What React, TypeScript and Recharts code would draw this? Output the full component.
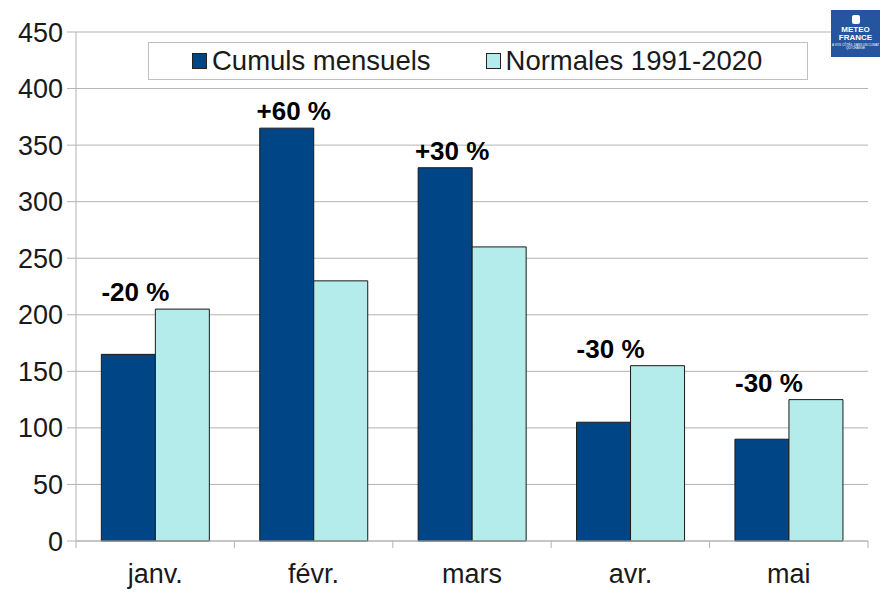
import React from 'react';
import {
  BarChart,
  Bar,
  XAxis,
  YAxis,
  CartesianGrid,
  Legend,
  LabelList,
} from 'recharts';

const months = ['janv.', 'févr.', 'mars', 'avr.', 'mai'];
const cumuls = [165, 365, 330, 105, 90];
const normales = [205, 230, 260, 155, 125];
const ecarts = ['-20 %', '+60 %', '+30 %', '-30 %', '-30 %'];
const yTicks = [0, 50, 100, 150, 200, 250, 300, 350, 400, 450];

const DARK = '#004586';
const LIGHT = '#b3ecea';
const GRID = '#b3b3b3';
const FONT = '"Liberation Sans", Arial, sans-serif';

const data = months.map((m, i) => ({
  month: m,
  cumul: cumuls[i],
  normale: normales[i],
  ecart: ecarts[i],
}));

// label sits above the taller of the two bars
function EcartLabel(props: any) {
  const { x, y, width, height, index } = props;
  const d = data[index];
  const top = Math.max(d.cumul, d.normale);
  const bottom = y + height;
  const yTop = bottom - (height * top) / d.cumul;
  return (
    <text
      x={x + width / 2 + 7}
      y={yTop - 8}
      textAnchor="middle"
      fontFamily={FONT}
      fontWeight="bold"
      fontSize={26}
      fill="#000"
    >
      {d.ecart}
    </text>
  );
}

function MonthTick(props: any) {
  const { x, y, payload, index } = props;
  const half = payload.offset || 79.2;
  return (
    <g>
      <line x1={x - half} x2={x - half} y1={y - 8} y2={y - 1} stroke={GRID} />
      {index === months.length - 1 && (
        <line x1={x + half} x2={x + half} y1={y - 8} y2={y - 1} stroke={GRID} />
      )}
      <text x={x} y={y + 34} textAnchor="middle" fontFamily={FONT} fontSize={27} fill="#1a1a1a">
        {payload.value}
      </text>
    </g>
  );
}

function LegendBox() {
  const item = (color: string, label: string, gap: number) => (
    <span style={{ display: 'inline-flex', alignItems: 'center', marginRight: gap }}>
      <span
        style={{
          width: 13,
          height: 14,
          background: color,
          border: '1px solid #222',
          marginRight: 5,
          display: 'inline-block',
        }}
      />
      <span>{label}</span>
    </span>
  );
  return (
    <div
      style={{
        width: 660,
        height: 38,
        border: '1px solid #c0c0c0',
        background: '#fff',
        display: 'flex',
        alignItems: 'center',
        paddingLeft: 43,
        boxSizing: 'border-box',
        fontFamily: FONT,
        fontSize: 27.5,
        color: '#1a1a1a',
        whiteSpace: 'nowrap',
      }}
    >
      {item(DARK, 'Cumuls mensuels', 55)}
      {item(LIGHT, 'Normales 1991-2020', 0)}
    </div>
  );
}

function Logo() {
  return (
    <div
      style={{
        position: 'absolute',
        left: 831,
        top: 10,
        width: 49,
        height: 47,
        background: '#25559f',
        color: '#fff',
        fontFamily: FONT,
        textAlign: 'center',
        lineHeight: 1,
      }}
    >
      <div
        style={{
          width: 8,
          height: 9,
          margin: '5px auto 2px',
          background: '#fff',
          borderRadius: 2,
        }}
      />
      <div style={{ fontSize: 8, fontWeight: 'bold' }}>METEO</div>
      <div style={{ fontSize: 8, fontWeight: 'bold' }}>FRANCE</div>
      <div style={{ fontSize: 3, marginTop: 2 }}>À VOS CÔTÉS, DANS UN CLIMAT QUI CHANGE</div>
    </div>
  );
}

export default function App() {
  return (
    <div style={{ position: 'fixed', left: 0, top: 0, width: 890, height: 607, background: '#fff' }}>
      <BarChart
        width={890}
        height={607}
        data={data}
        margin={{ top: 32, right: 22, bottom: 0, left: 0 }}
        barCategoryGap="16%"
        barGap={0}
      >
        <CartesianGrid vertical={false} stroke={GRID} />
        <XAxis
          dataKey="month"
          stroke={GRID}
          tickLine={false}
          tick={<MonthTick />}
          interval={0}
          height={66}
        />
        <YAxis
          domain={[0, 450]}
          ticks={yTicks}
          stroke={GRID}
          tickSize={9}
          width={76}
          tick={{ fill: '#1a1a1a', fontSize: 27, fontFamily: FONT }}
          tickMargin={4}
          interval={0}
        />
        <Legend
          layout="vertical"
          align="center"
          verticalAlign="middle"
          wrapperStyle={{ left: 148, top: 42, width: 660 }}
          content={() => <LegendBox />}
        />
        <Bar dataKey="cumul" fill={DARK} stroke="#1a1a1a" strokeWidth={1} isAnimationActive={false}>
          <LabelList dataKey="ecart" content={<EcartLabel />} />
        </Bar>
        <Bar dataKey="normale" fill={LIGHT} stroke="#1a1a1a" strokeWidth={1} isAnimationActive={false} />
      </BarChart>
      <Logo />
    </div>
  );
}
